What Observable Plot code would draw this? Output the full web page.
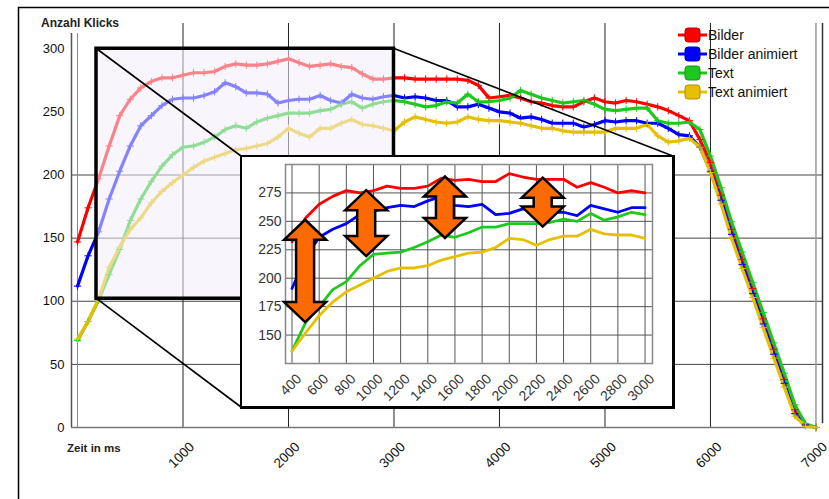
<!DOCTYPE html>
<html><head><meta charset="utf-8">
<script src="https://cdn.jsdelivr.net/npm/d3@7"></script>
<script src="https://cdn.jsdelivr.net/npm/@observablehq/plot@0.6"></script>
<style>
body{margin:0;background:#fff;font-family:"Liberation Sans",Arial,sans-serif;}
#wrap{position:relative;width:829px;height:499px;overflow:hidden;}
#inset{position:absolute;left:240px;top:155px;width:435px;height:254px;box-sizing:border-box;border-left:2px solid #000;border-top:2px solid #000;border-right:3px solid #000;border-bottom:3px solid #000;background:#fff;}
#inset svg{display:block;}
</style></head><body>
<div id="wrap"><div id="main"></div><div id="inset"></div></div>
<script>
// ---------- data ----------
const seriesNames = ["Bilder", "Bilder animiert", "Text", "Text animiert"];
const seriesColors = ["#ff0000", "#0000ff", "#1ec81e", "#e6c000"];

const mainTimes = [0,100,200,300,400,500,600,700,800,900,
  1000,1100,1200,1300,1400,1500,1600,1700,1800,1900,
  2000,2100,2200,2300,2400,2500,2600,2700,2800,2900,
  3000,3100,3200,3300,3400,3500,3600,3700,3800,3900,
  4000,4100,4200,4300,4400,4500,4600,4700,4800,4900,
  5000,5100,5200,5300,5400,5500,5600,5700,5800,5900,
  6000,6100,6200,6300,6400,6500,6600,6700,6800,6900,7000];
const mainBilder = [147,174,197,223,247,260,269,274,277,277,
  279,281,281,282,286,288,287,287,288,290,
  292,289,286,287,288,286,285,280,276,276,
  277,277,276,276,276,276,276,275,271,261,
  262,263,261,258,257,255,254,254,258,261,
  258,257,259,258,256,254,251,247,243,228,
  210,184,157,133,110,86,62,38,14,2,0];
const mainBilderAnimiert = [112,136,155,181,203,223,239,247,255,260,
  261,261,263,266,273,270,265,265,264,257,
  259,260,260,263,259,257,264,261,260,262,
  263,261,262,261,259,259,254,254,256,253,
  250,249,245,246,244,241,241,241,238,240,
  243,242,243,243,241,241,237,232,231,222,
  203,180,153,129,106,82,58,35,11,2,0];
const mainText = [69,84,101,121,141,164,181,195,207,216,
  222,223,226,230,236,239,237,242,245,247,
  249,249,249,251,252,256,258,253,256,258,
  259,258,256,254,255,258,257,264,258,258,
  259,261,267,264,261,259,257,258,259,256,
  252,251,252,253,253,243,241,241,242,236,
  215,190,163,139,115,91,67,43,18,3,0];
const mainTextAnimiert = [70,84,102,127,143,157,166,178,187,194,
  200,206,211,214,217,220,221,223,225,230,
  237,233,230,237,237,241,244,240,239,237,
  235,242,246,244,242,241,242,246,244,243,
  243,242,241,239,237,237,235,234,234,234,
  234,237,237,237,240,231,226,227,229,222,
  202,177,150,126,103,79,55,32,9,1,0];

const insetTimes = [400,500,600,700,800,900,1000,1100,1200,1300,1400,1500,1600,1700,
  1800,1900,2000,2100,2200,2300,2400,2500,2600,2700,2800,2900,3000];
const insetBilder = [232,253,265,272,277,275,277,281,279,279,281,288,286,287,285,285,292,289,287,287,287,280,284,280,275,277,275];
const insetBilderAnimiert = [191,218,236,243,248,256,259,262,264,263,268,272,264,263,265,256,257,261,259,258,258,255,264,261,258,262,262];
const insetText = [136,161,175,190,197,211,221,222,223,227,232,238,236,240,245,245,248,248,248,249,252,250,257,251,254,258,256];
const insetTextAnimiert = [136,152,167,179,188,194,200,206,209,209,211,216,219,222,223,227,235,234,229,234,237,237,243,239,238,238,235];

// orange double arrows in the inset (time, upper value, lower value)
const arrowTimes = [500, 950, 1530, 2250];
const arrowTop = [251, 277, 289, 288];
const arrowBottom = [161, 219, 235, 245];

const mainXTicks = [1000,2000,3000,4000,5000,6000,7000];
const mainYTicks = [0,50,100,150,200,250,300];
const mainGridY = [50,100,150,200];
const insetXTicks = [400,600,800,1000,1200,1400,1600,1800,2000,2200,2400,2600,2800,3000];
const insetYTicks = [150,175,200,225,250,275];
const insetGridY = [125,150,175,200,225,250,275,300];

// zoomed region of the main chart (in data units)
const zoomTimes = [180, 3000];
const zoomValues = [102, 300];

// ---------- layout ----------
const xDomainMain = [-57, 7062];
const yDomainMain = [0, 320];
const insetBox = {left: 240, top: 155, w: 435, h: 254};
const font = "Liberation Sans, Arial, sans-serif";

const mainValues = [mainBilder, mainBilderAnimiert, mainText, mainTextAnimiert];
const mainData = seriesNames.flatMap((name, k) => mainTimes.map((t, i) => ({name, t, v: mainValues[k][i]})));
const insetValues = [insetBilder, insetBilderAnimiert, insetText, insetTextAnimiert];
const insetData = seriesNames.flatMap((name, k) => insetTimes.map((t, i) => ({name, t, v: insetValues[k][i]})));
const zoomRect = [{x1: zoomTimes[0], x2: zoomTimes[1], y1: zoomValues[0], y2: zoomValues[1]}];

function decor() {
  const g = d3.create("svg:g").attr("text-anchor", "start");
  g.append("rect").attr("x", 18.5).attr("y", 7.5).attr("width", 900).attr("height", 600)
    .attr("fill", "none").attr("stroke", "#000").attr("stroke-width", 1.5);
  g.append("text").attr("x", 41).attr("y", 27).attr("font-size", 12).attr("font-weight", "bold")
    .attr("fill", "#222").text("Anzahl Klicks");
  g.append("text").attr("x", 67).attr("y", 452).attr("font-size", 11.5).attr("font-weight", "bold")
    .attr("fill", "#222").text("Zeit in ms");
  return g.node();
}

function connectors(index, scales) {
  const g = d3.create("svg:g").attr("stroke", "#000").attr("stroke-width", 1.6);
  const xl = scales.x(zoomTimes[0]), xr = scales.x(zoomTimes[1]);
  const yt = scales.y(zoomValues[1]), yb = scales.y(zoomValues[0]);
  const L = insetBox.left + 1, R = insetBox.left + insetBox.w - 2, T = insetBox.top + 1, B = insetBox.top + insetBox.h - 2;
  [[xl, yt, L, T], [xr, yt, R, T], [xl, yb, L, B]].forEach(([a, b, c, d]) =>
    g.append("line").attr("x1", a).attr("y1", b).attr("x2", c).attr("y2", d));
  return g.node();
}

function legend() {
  const g = d3.create("svg:g").attr("text-anchor", "start");
  seriesNames.forEach((name, i) => {
    const y = 35 + 19 * i;
    g.append("line").attr("x1", 678).attr("x2", 707).attr("y1", y).attr("y2", y)
      .attr("stroke", seriesColors[i]).attr("stroke-width", 3);
    g.append("rect").attr("x", 685).attr("y", y - 7).attr("width", 15).attr("height", 14).attr("rx", 3)
      .attr("fill", seriesColors[i]).attr("stroke", d3.color(seriesColors[i]).darker(0.8)).attr("stroke-width", 1);
    g.append("text").attr("x", 708).attr("y", y).attr("dy", "0.36em").attr("font-size", 14)
      .attr("fill", "#111").text(name);
  });
  return g.node();
}

const main = Plot.plot({
  width: 829, height: 499,
  marginLeft: 71, marginRight: 7, marginTop: 23, marginBottom: 72,
  style: {fontFamily: font, background: "#fff"},
  x: {domain: xDomainMain, axis: null},
  y: {domain: yDomainMain, axis: null},
  color: {domain: seriesNames, range: seriesColors},
  marks: [
    decor,
    Plot.ruleY(mainGridY, {x1: xDomainMain[0], x2: xDomainMain[1], stroke: "#444", strokeWidth: 1}),
    Plot.ruleX(mainXTicks.slice(0, -1), {stroke: "#222", strokeWidth: 1}),
    Plot.ruleX([7000], {stroke: "#999", strokeWidth: 1.5}),
    Plot.ruleX([xDomainMain[0]], {y1: 0, y2: 312, stroke: "#555", strokeWidth: 1.5}),
    Plot.ruleX([0], {y1: 0, y2: 312, stroke: "#888", strokeWidth: 1}),
    Plot.ruleX([xDomainMain[1]], {y1: 3, y2: 320, stroke: "#333", strokeWidth: 1.5}),
    Plot.ruleY([0], {x1: xDomainMain[0], x2: 7000, stroke: "#777", strokeWidth: 1.5}),
    Plot.line(mainData, {x: "t", y: "v", z: "name", stroke: "name", strokeWidth: 3.2}),
    Plot.dot(mainData, {x: "t", y: "v", stroke: "name", symbol: "plus", r: 2.5, strokeWidth: 1}),
    Plot.rect(zoomRect, {x1: "x1", x2: "x2", y1: "y1", y2: "y2", fill: "#f3effa", fillOpacity: 0.55}),
    Plot.rect(zoomRect, {x1: "x1", x2: "x2", y1: "y1", y2: "y2", fill: "none", stroke: "#000", strokeWidth: 3.5}),
    connectors,
    legend,
    Plot.axisY(mainYTicks, {tickSize: 0, tickPadding: 7, fontSize: 13, label: null, fill: "#111"}),
    Plot.text(mainXTicks, {x: d => d, frameAnchor: "bottom", text: d => String(d), rotate: -45,
      textAnchor: "end", lineAnchor: "middle", dx: 9, dy: 17, fontSize: 13.5, fill: "#111"})
  ]
});
document.getElementById("main").appendChild(main);

function arrows(index, scales) {
  const g = d3.create("svg:g");
  const hw = 21, sw = 9, hl = 20;
  arrowTimes.forEach((t, i) => {
    const cx = scales.x(t), yt = scales.y(arrowTop[i]), yb = scales.y(arrowBottom[i]);
    const pts = [[cx, yt], [cx + hw, yt + hl], [cx + sw, yt + hl], [cx + sw, yb - hl], [cx + hw, yb - hl],
      [cx, yb], [cx - hw, yb - hl], [cx - sw, yb - hl], [cx - sw, yt + hl], [cx - hw, yt + hl]];
    g.append("polygon").attr("points", pts.map(p => p.join(",")).join(" "))
      .attr("fill", "#ff6a00").attr("stroke", "#000").attr("stroke-width", 2.5).attr("stroke-linejoin", "miter");
  });
  return g.node();
}

const inset = Plot.plot({
  width: 430, height: 249,
  marginLeft: 43, marginRight: 20, marginTop: 7, marginBottom: 43,
  style: {fontFamily: font, background: "#fff"},
  x: {domain: [352, 3055], axis: null},
  y: {domain: [125, 300], axis: null},
  color: {domain: seriesNames, range: seriesColors},
  marks: [
    Plot.gridX(insetXTicks, {stroke: "#555", strokeOpacity: 1, strokeWidth: 1}),
    Plot.gridY(insetGridY, {stroke: "#555", strokeOpacity: 1, strokeWidth: 1}),
    Plot.frame({stroke: "#888", strokeWidth: 1.5}),
    Plot.line(insetData, {x: "t", y: "v", z: "name", stroke: "name", strokeWidth: 2.8}),
    arrows,
    Plot.axisY(insetYTicks, {tickSize: 0, tickPadding: 4, fontSize: 14, label: null, fill: "#333"}),
    Plot.text(insetXTicks, {x: d => d, frameAnchor: "bottom", text: d => String(d), rotate: -45,
      textAnchor: "end", lineAnchor: "middle", dx: 7, dy: 13, fontSize: 14, fill: "#333"})
  ]
});
document.getElementById("inset").appendChild(inset);
</script></body></html>
